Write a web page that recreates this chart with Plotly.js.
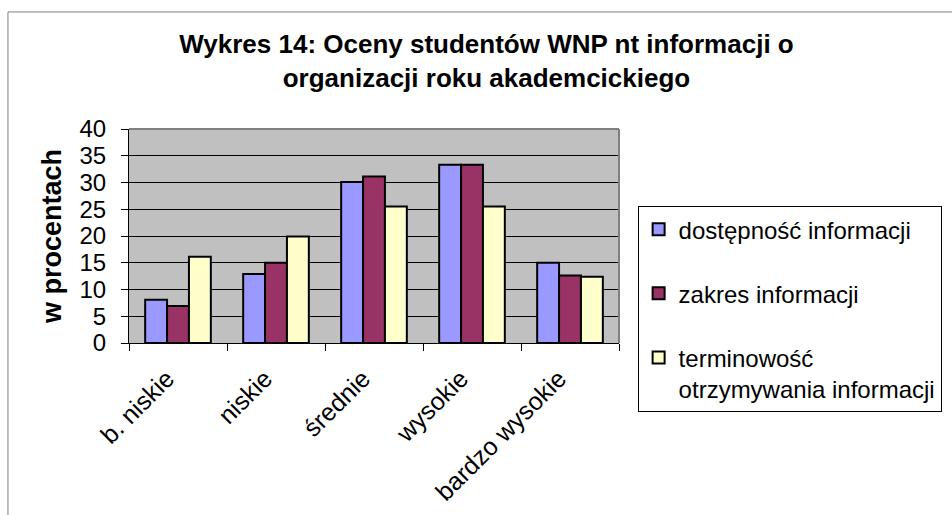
<!DOCTYPE html>
<html>
<head>
<meta charset="utf-8">
<script src="https://cdn.plot.ly/plotly-3.0.1.min.js"></script>
<style>html,body{margin:0;padding:0;background:#fff;}#chart{width:952px;height:515px;}</style>
</head>
<body>
<div id="chart"></div>
<script>
const categories = ['b. niskie', 'niskie', 'średnie', 'wysokie', 'bardzo wysokie'];
const seriesNames = ['dostępność informacji', 'zakres informacji', 'terminowość<br>otrzymywania informacji'];
const dostepnosc = [8.1, 12.9, 30.1, 33.3, 15.0];
const zakres = [6.9, 15.0, 31.1, 33.3, 12.6];
const terminowosc = [16.1, 19.9, 25.5, 25.5, 12.4];
const yTicks = [0, 5, 10, 15, 20, 25, 30, 35, 40];

const FONT = 'Liberation Sans, Arial, sans-serif';
const colors = ['#9999FF', '#993366', '#FFFFCC'];
const values = [dostepnosc, zakres, terminowosc];

const traces = values.map((v, i) => ({
  type: 'bar',
  x: categories,
  y: v,
  name: seriesNames[i],
  legendgroup: 'g' + i,
  marker: {color: colors[i], line: {color: '#000', width: 2}},
  hoverinfo: 'x+y+name'
}));

const layout = {
  width: 952, height: 515,
  margin: {l: 129, r: 333, t: 129, b: 172, pad: 0, autoexpand: false},
  paper_bgcolor: '#ffffff',
  plot_bgcolor: '#c0c0c0',
  font: {family: FONT, color: '#000', size: 24},
  barmode: 'group',
  bargap: 0.33,
  bargroupgap: 0,
  showlegend: true,
  title: {
    text: 'Wykres 14: Oceny studentów WNP nt informacji o<br>organizacji roku akademcickiego',
    font: {family: FONT, size: 26, weight: 'bold', color: '#000'},
    xref: 'container', x: 0.511, xanchor: 'center',
    yref: 'container', y: 0.897, yanchor: 'top'
  },
  xaxis: {
    type: 'category',
    tickangle: -45,
    tickfont: {family: FONT, size: 25},
    ticks: 'outside', ticklen: 7, tickcolor: '#000', tickwidth: 1,
    tickson: 'boundaries',
    ticklabelstandoff: 10,
    ticklabelshift: -11,
    showline: true, linecolor: '#000', linewidth: 1,
    showgrid: false, zeroline: false,
    automargin: false, fixedrange: true
  },
  yaxis: {
    range: [0, 40],
    tickvals: yTicks,
    ticktext: yTicks.map(String),
    tickfont: {family: FONT, size: 24},
    ticks: 'outside', ticklen: 7, tickcolor: '#000', tickwidth: 1,
    ticklabelstandoff: 10,
    showline: true, linecolor: '#000', linewidth: 1,
    showgrid: true, gridcolor: '#000', gridwidth: 1,
    zeroline: false,
    title: {text: 'w procentach', font: {family: FONT, size: 27, weight: 'bold'}, standoff: 10},
    automargin: false, fixedrange: true
  },
  legend: {
    x: 1.038, xanchor: 'left', xref: 'paper',
    y: 0.64, yanchor: 'top', yref: 'paper',
    bgcolor: '#ffffff', bordercolor: '#000', borderwidth: 1,
    font: {family: FONT, size: 24},
    traceorder: 'grouped', tracegroupgap: 30,
    valign: 'top', itemwidth: 30
  },
  shapes: [
    {type: 'line', xref: 'paper', yref: 'paper', x0: 0, x1: 1, y0: 1, y1: 1, line: {color: '#808080', width: 2}, layer: 'above'},
    {type: 'line', xref: 'paper', yref: 'paper', x0: 1, x1: 1, y0: 0, y1: 1, line: {color: '#808080', width: 2}, layer: 'above'},
    {type: 'rect', xref: 'paper', yref: 'paper', x0: -0.247, x1: 1.7, y0: -0.9, y1: 1.547, line: {color: '#808080', width: 1}, fillcolor: 'rgba(0,0,0,0)', layer: 'above'}
  ]
};

Plotly.newPlot('chart', traces, layout, {displayModeBar: false, staticPlot: false});
</script>
</body>
</html>
